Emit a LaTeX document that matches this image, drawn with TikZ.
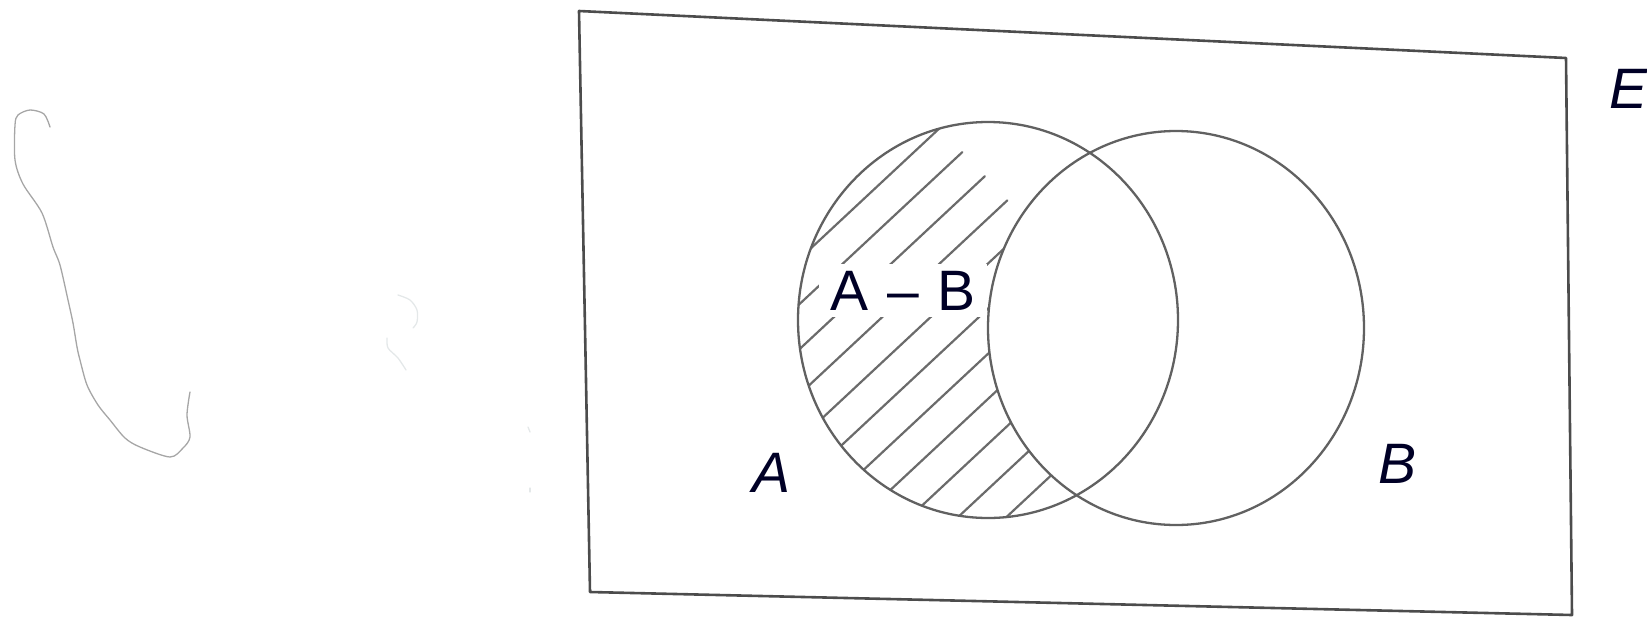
\documentclass[tikz,border=0pt]{standalone}
\usepackage{fontspec}
\setmainfont{Liberation Sans}
\begin{document}
\begin{tikzpicture}[x=1pt,y=-1pt,line join=round,line cap=round]
\tikzset{
  frameline/.style={draw=black!70, line width=2.6pt},
  outline/.style={draw=black!62, line width=2.3pt},
  hatchline/.style={draw=black!58, line width=2.2pt},
  lbl/.style={font=\fontsize{57}{60}\selectfont\itshape, text=black!85!blue, inner sep=0pt},
  scribble/.style={draw=black!35, line width=1.3pt},
  faint/.style={draw=cyan!20!black!12, line width=1.3pt},
}
\useasboundingbox (0,0) rectangle (1647,619);
% faint marks on the left
\draw[scribble] plot[smooth] coordinates {(50,127) (44,114) (30,110) (18,115) (15,125) (15,160) (23,184) (42,213) (53,247) (60,265) (68,300) (73,323) (77,347) (80,360) (87,385) (98,405) (110,420) (125,438) (140,447) (170,457) (183,448) (190,437) (187,415) (190,392)};
\draw[faint] plot[smooth] coordinates {(398,295) (410,300) (417,310) (417,322) (413,328)};
\draw[faint] plot[smooth] coordinates {(387,338) (388,348) (398,358) (406,370)};
\draw[faint] (528,427) -- (530,432);
\draw[faint] (530,488) -- (530,492);
% frame
\draw[frameline] (579,11) -- (1566,58) -- (1572,615) -- (590,592) -- cycle;
% hatching of A - B
\begin{scope}
  \clip (988,320) ellipse [x radius=190pt, y radius=198pt];
  \foreach \k in {-5,...,7}{
    \pgfmathsetmacro\cc{866.9+33*\k}
    \draw[hatchline] ({\cc*0.682-600*0.731},{\cc*0.731+600*0.682}) -- ({\cc*0.682+600*0.731},{\cc*0.731-600*0.682});
  }
  \fill[white] (1176,328) ellipse [x radius=188pt, y radius=197pt];
\end{scope}
\node[name=AmB, fill=white, inner xsep=11pt, inner ysep=7pt, anchor=base,
      font=\fontsize{57}{60}\selectfont, text=black!85!blue] at (903,310) {A\,\,–\,\,B};
% sets
\draw[outline] (988,320) ellipse [x radius=190pt, y radius=198pt];
\draw[outline] (1176,328) ellipse [x radius=188pt, y radius=197pt];
% labels
\node[lbl, name=la, anchor=base] at (772,492) {A};
\node[lbl, name=lb, anchor=base] at (1397,483) {B};
\node[lbl, name=le, anchor=base west] at (1609,108) {E};
\end{tikzpicture}
\end{document}
